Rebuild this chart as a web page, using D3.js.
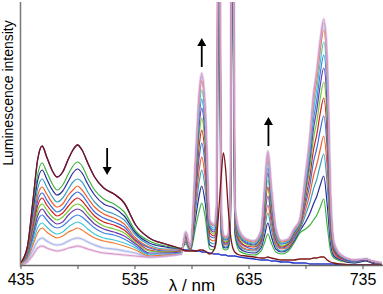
<!DOCTYPE html>
<html>
<head>
<meta charset="utf-8">
<script src="https://cdnjs.cloudflare.com/ajax/libs/d3/7.8.5/d3.min.js"></script>
<style>
  body { margin: 0; background: #fff; }
  text { font-family: Arial, "Liberation Sans", sans-serif; fill: #000; }
</style>
</head>
<body>
<svg id="chart" width="383" height="294"></svg>
<script>
// wavelength grid (nm), shared by all spectra
var wavelengths = [435, 441, 446, 450, 454, 458, 463, 467, 472, 477, 481, 485, 489, 494, 500, 508, 517, 526, 536, 548, 562, 576,
    580, 584, 589, 592, 594, 597, 601, 605, 607, 609, 611, 613, 615, 617, 619, 621, 623, 627, 633, 640, 646, 649, 652, 655, 659, 664,
    670, 675, 680, 685, 689, 692, 695, 698, 701, 704, 707, 710, 716, 728, 738, 743, 748, 752];

// reference spectra (a.u.)
var blueRef = [2, 18, 65, 105, 119, 108, 94, 88, 93, 106, 115, 120, 115, 102, 88, 77, 71, 62, 40, 27, 21, 16,
    15, 15, 14, 14, 13, 13, 12, 11, 11, 11, 10, 10, 10, 9, 9, 9, 9, 8, 7, 6, 5, 5, 5, 4, 4, 3,
    3, 2, 2, 2, 1, 1, 1, 1, 1, 1, 1, 1, 0, 0, 0, 0, 0, 0];
var maroonRef = [2, 18, 65, 105, 119, 108, 94, 88, 93, 106, 115, 120, 115, 102, 88, 77, 71, 62, 40, 27, 21, 16,
    14, 14, 14, 15, 15, 14, 11, 16, 28, 55, 88, 112, 95, 60, 32, 18, 13, 10, 9, 8, 7, 7, 8, 7, 6, 5,
    5, 5, 6, 6, 6, 7, 7, 8, 8, 5, 3, 2, 1, 0, 0, 0, 0, 0];

// titration steps, first to last
var step01 = [2, 15, 56, 90, 102, 93, 81, 75, 80, 91, 99, 103, 99, 87, 75, 66, 61, 53, 34, 24, 19, 17,
    21, 14, 40, 55, 62, 48, 16, 15, 25, 330, 30, 16, 15, 16, 30, 310, 30, 14, 11, 10, 14, 22, 31, 22, 13, 11,
    14, 22, 32, 36, 40, 45, 50, 58, 66, 40, 14, 7, 4, 2, 4, 2, 1, 1];
var step02 = [2, 14, 52, 84, 95, 86, 75, 70, 74, 84, 92, 96, 92, 81, 70, 61, 57, 49, 32, 22, 18, 16,
    23, 15, 50, 71, 79, 62, 20, 18, 30, 360, 34, 18, 17, 18, 34, 339, 34, 17, 13, 12, 17, 29, 42, 29, 16, 13,
    16, 24, 34, 43, 52, 61, 69, 80, 89, 61, 21, 9, 5, 2, 4, 2, 1, 1];
var step03 = [1, 13, 47, 76, 86, 78, 68, 63, 67, 76, 83, 86, 83, 73, 63, 55, 51, 45, 30, 20, 16, 16,
    24, 15, 59, 85, 95, 76, 23, 21, 34, 388, 38, 20, 18, 20, 38, 365, 38, 19, 15, 14, 19, 35, 52, 36, 19, 14,
    17, 26, 35, 50, 63, 76, 86, 100, 111, 81, 28, 11, 6, 3, 5, 3, 2, 1];
var step04 = [1, 12, 43, 69, 78, 71, 62, 58, 61, 70, 75, 79, 75, 67, 58, 51, 47, 41, 27, 18, 15, 15,
    25, 15, 66, 97, 108, 87, 26, 24, 37, 411, 41, 21, 20, 21, 41, 387, 41, 21, 16, 15, 21, 41, 60, 42, 21, 16,
    18, 27, 37, 55, 72, 89, 101, 116, 129, 98, 34, 12, 6, 3, 5, 3, 2, 1];
var step05 = [1, 11, 39, 64, 72, 65, 57, 53, 56, 64, 70, 73, 70, 62, 53, 47, 43, 38, 25, 17, 14, 14,
    27, 16, 75, 110, 122, 99, 29, 27, 41, 436, 44, 22, 21, 22, 44, 411, 44, 23, 18, 16, 23, 46, 69, 48, 24, 17,
    20, 28, 38, 61, 81, 103, 117, 135, 149, 116, 40, 14, 7, 3, 5, 3, 2, 1];
var step06 = [1, 10, 36, 59, 67, 60, 53, 49, 52, 59, 64, 67, 64, 57, 49, 43, 40, 35, 24, 15, 13, 14,
    28, 16, 82, 122, 135, 110, 32, 29, 45, 459, 47, 24, 22, 24, 47, 433, 47, 25, 19, 18, 25, 52, 78, 53, 26, 18,
    21, 30, 39, 66, 90, 115, 131, 152, 167, 132, 45, 15, 7, 4, 5, 3, 2, 2];
var step07 = [1, 9, 33, 54, 61, 55, 48, 45, 48, 54, 59, 61, 59, 52, 45, 39, 36, 32, 22, 14, 13, 13,
    29, 17, 89, 133, 147, 120, 35, 31, 48, 480, 50, 25, 23, 25, 50, 453, 50, 27, 21, 19, 27, 56, 85, 58, 28, 19,
    22, 31, 40, 71, 99, 126, 144, 167, 183, 147, 50, 17, 8, 4, 5, 3, 2, 2];
var step08 = [1, 8, 30, 49, 56, 50, 44, 41, 43, 50, 54, 56, 54, 48, 41, 36, 33, 29, 21, 12, 12, 13,
    30, 17, 95, 143, 157, 128, 37, 33, 51, 498, 52, 26, 25, 26, 52, 471, 52, 29, 22, 20, 29, 61, 92, 63, 30, 21,
    23, 32, 42, 75, 106, 136, 156, 180, 197, 160, 55, 18, 8, 4, 5, 3, 2, 2];
var step09 = [1, 8, 27, 44, 50, 45, 39, 37, 39, 44, 48, 50, 48, 43, 37, 32, 30, 26, 19, 11, 11, 12,
    31, 17, 100, 151, 166, 136, 39, 35, 53, 514, 54, 27, 25, 27, 54, 486, 54, 30, 23, 21, 30, 64, 97, 67, 31, 21,
    24, 33, 42, 79, 112, 145, 166, 192, 210, 172, 59, 19, 9, 4, 6, 4, 3, 2];
var step10 = [1, 6, 23, 37, 42, 38, 33, 31, 33, 38, 41, 43, 41, 36, 31, 27, 25, 22, 17, 10, 10, 12,
    31, 17, 105, 159, 175, 144, 41, 37, 55, 530, 56, 28, 26, 28, 56, 501, 56, 31, 24, 22, 31, 68, 103, 71, 33, 22,
    24, 34, 43, 83, 118, 154, 176, 203, 223, 184, 63, 20, 9, 5, 6, 4, 3, 2];
var step11 = [1, 6, 20, 32, 37, 33, 29, 27, 29, 33, 35, 37, 35, 31, 27, 24, 22, 19, 15, 9, 10, 11,
    32, 18, 111, 168, 184, 151, 43, 39, 58, 546, 58, 29, 27, 29, 58, 517, 58, 33, 25, 23, 33, 72, 109, 75, 35, 23,
    25, 35, 44, 87, 125, 163, 186, 215, 235, 195, 67, 21, 10, 5, 6, 4, 3, 2];
var step12 = [0, 4, 15, 24, 27, 24, 21, 20, 21, 24, 26, 27, 26, 23, 20, 17, 16, 14, 12, 8, 9, 11,
    33, 18, 114, 173, 189, 156, 44, 40, 59, 555, 59, 30, 28, 30, 59, 526, 59, 34, 26, 24, 34, 74, 112, 77, 36, 24,
    26, 36, 45, 89, 128, 168, 192, 222, 242, 202, 69, 22, 10, 5, 6, 4, 3, 2];
var step13 = [0, 3, 10, 17, 19, 17, 15, 14, 15, 17, 18, 19, 18, 16, 14, 12, 11, 10, 9, 8, 9, 11,
    33, 18, 115, 175, 192, 158, 45, 40, 60, 560, 60, 30, 28, 30, 60, 530, 60, 34, 26, 24, 34, 75, 114, 78, 36, 24,
    26, 36, 45, 90, 130, 170, 195, 225, 246, 205, 70, 22, 10, 5, 6, 4, 3, 2];

var steps = [step01, step02, step03, step04, step05, step06, step07, step08, step09, step10, step11, step12, step13];
var stepColors = ["#3fb33f", "#2b2b9c", "#3c9fbf", "#f0602c", "#3b6fe0", "#d42222", "#6fcc2e",
    "#6b3bb0", "#4283e0", "#3fc8d2", "#f27a32", "#a3bdf2", "#e394c4"];

var xTicks = [435, 485, 535, 585, 635, 685, 735];
var xTickLabels = ["435", "", "535", "", "635", "", "735"];

// arrows: wavelength, tail and head intensity
var arrows = [
    {lambda: 511, from: 117, to: 90},
    {lambda: 594, from: 198, to: 227},
    {lambda: 652.5, from: 119, to: 148}
];

var svg = d3.select("#chart");
var x = d3.scaleLinear().domain([435, 753]).range([20.5, 383]);
var y = d3.scaleLinear().domain([0, 263]).range([265, 2]);

svg.append("defs").append("clipPath").attr("id", "plot")
    .append("rect").attr("x", 20).attr("y", 2).attr("width", 363).attr("height", 264);

var line = d3.line()
    .x(function(d, i) { return x(wavelengths[i]); })
    .y(function(d) { return y(d); })
    .curve(d3.curveMonotoneX);

var g = svg.append("g").attr("clip-path", "url(#plot)");

// faint halo under the last steps
g.selectAll("path.halo")
    .data(steps.slice(11))
    .enter().append("path")
    .attr("class", "halo")
    .attr("d", line)
    .attr("fill", "none")
    .attr("stroke", "#c7b4e0")
    .attr("stroke-opacity", 0.4)
    .attr("stroke-width", 2.8);

g.append("path").attr("d", line(blueRef))
    .attr("fill", "none").attr("stroke", "#2233c8").attr("stroke-width", 1.3);

g.selectAll("path.step")
    .data(steps)
    .enter().append("path")
    .attr("class", "step")
    .attr("d", line)
    .attr("fill", "none")
    .attr("stroke", function(d, i) { return stepColors[i]; })
    .attr("stroke-width", 1.2);

g.append("path").attr("d", line(maroonRef))
    .attr("fill", "none").attr("stroke", "#7d1414").attr("stroke-width", 1.3);

// axes
var xAxis = d3.axisBottom(x)
    .tickValues(xTicks)
    .tickSize(4)
    .tickSizeOuter(0)
    .tickFormat(function(d, i) { return xTickLabels[i]; });

var ax = svg.append("g").attr("transform", "translate(0,265)").call(xAxis);
ax.select(".domain").attr("stroke", "#666").attr("stroke-width", 1.3);
ax.selectAll(".tick line").attr("stroke", "#666").attr("stroke-width", 1.2);
ax.selectAll(".tick text").attr("font-size", 16).attr("dy", 0).attr("y", 20);

svg.append("line")
    .attr("x1", x(435)).attr("x2", x(435))
    .attr("y1", 2).attr("y2", 267)
    .attr("stroke", "#777").attr("stroke-width", 1.5);

svg.append("text")
    .attr("x", 192).attr("y", 291)
    .attr("text-anchor", "middle")
    .attr("font-size", 17)
    .text("λ / nm");

svg.append("text")
    .attr("transform", "translate(13,93) rotate(-90)")
    .attr("text-anchor", "middle")
    .attr("font-size", 14)
    .text("Luminescence intensity");

// arrows
var arr = svg.selectAll("g.arrow").data(arrows).enter().append("g").attr("class", "arrow");
arr.append("line")
    .attr("x1", function(d) { return x(d.lambda); })
    .attr("x2", function(d) { return x(d.lambda); })
    .attr("y1", function(d) { return y(d.from); })
    .attr("y2", function(d) { return y(d.to) + (d.to > d.from ? 6 : -6); })
    .attr("stroke", "#000").attr("stroke-width", 1.8);
arr.append("path")
    .attr("d", function(d) {
        var cx = x(d.lambda), ty = y(d.to), dir = d.to > d.from ? 1 : -1;
        return "M" + cx + "," + ty + "L" + (cx - 4.5) + "," + (ty + 8 * dir) + "L" + (cx + 4.5) + "," + (ty + 8 * dir) + "Z";
    })
    .attr("fill", "#000");
</script>
</body>
</html>
